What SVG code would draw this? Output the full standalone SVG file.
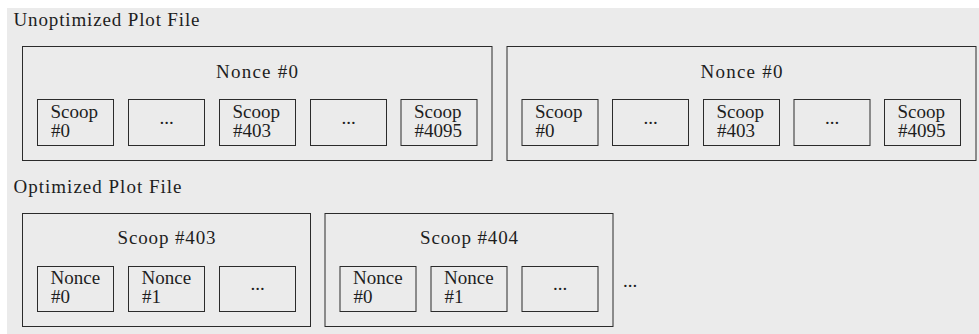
<svg xmlns="http://www.w3.org/2000/svg" width="979" height="334" viewBox="0 0 979 334" font-family="'Liberation Serif', 'Times New Roman', serif">
<style>
  text { font-family: "Liberation Serif", "Times New Roman", serif; font-size: 19px; fill: #1e1e1e; }
  .c { text-anchor: middle; }
  .box { fill: none; stroke: #2b2b2b; stroke-width: 1; }
</style>
<rect x="7" y="8" width="972" height="326" fill="#ebebeb"/>

<g id="unoptimized">
  <text x="13.5" y="26" textLength="186" lengthAdjust="spacing">Unoptimized Plot File</text>

  <g id="nonce0-a">
    <rect class="box" x="22.5" y="46.5" width="469.5" height="114"/>
    <text class="c" x="257" y="77.7" textLength="82" lengthAdjust="spacing">Nonce #0</text>
    <g id="a-scoop0">
      <rect class="box" x="37.5" y="99.5" width="76" height="46"/>
      <text x="50.5" y="117.5">Scoop</text>
      <text x="51" y="136.5">#0</text>
    </g>
    <g id="a-dots1">
      <rect class="box" x="128.5" y="99.5" width="76" height="46"/>
      <text class="c" x="166.5" y="123.5">...</text>
    </g>
    <g id="a-scoop403">
      <rect class="box" x="219.5" y="99.5" width="76" height="46"/>
      <text x="232.5" y="117.5">Scoop</text>
      <text x="233" y="136.5">#403</text>
    </g>
    <g id="a-dots2">
      <rect class="box" x="310.5" y="99.5" width="76" height="46"/>
      <text class="c" x="348.5" y="123.5">...</text>
    </g>
    <g id="a-scoop4095">
      <rect class="box" x="401" y="99.5" width="76" height="46"/>
      <text x="414" y="117.5">Scoop</text>
      <text x="414.5" y="136.5">#4095</text>
    </g>
  </g>

  <g id="nonce0-b">
    <rect class="box" x="507" y="46.5" width="469" height="114"/>
    <text class="c" x="741.5" y="77.7" textLength="82" lengthAdjust="spacing">Nonce #0</text>
    <g id="b-scoop0">
      <rect class="box" x="522" y="99.5" width="76" height="46"/>
      <text x="535" y="117.5">Scoop</text>
      <text x="535.5" y="136.5">#0</text>
    </g>
    <g id="b-dots1">
      <rect class="box" x="612.5" y="99.5" width="76" height="46"/>
      <text class="c" x="650.5" y="123.5">...</text>
    </g>
    <g id="b-scoop403">
      <rect class="box" x="703.5" y="99.5" width="76" height="46"/>
      <text x="716.5" y="117.5">Scoop</text>
      <text x="717" y="136.5">#403</text>
    </g>
    <g id="b-dots2">
      <rect class="box" x="794" y="99.5" width="76" height="46"/>
      <text class="c" x="832" y="123.5">...</text>
    </g>
    <g id="b-scoop4095">
      <rect class="box" x="884.5" y="99.5" width="76" height="46"/>
      <text x="897.5" y="117.5">Scoop</text>
      <text x="898" y="136.5">#4095</text>
    </g>
  </g>
</g>

<g id="optimized">
  <text x="13.5" y="192.5" textLength="168" lengthAdjust="spacing">Optimized Plot File</text>

  <g id="scoop403">
    <rect class="box" x="22.5" y="213.5" width="288" height="113"/>
    <text class="c" x="166.5" y="244.2" textLength="98" lengthAdjust="spacing">Scoop #403</text>
    <g id="c-nonce0">
      <rect class="box" x="37.5" y="266.5" width="76" height="45"/>
      <text x="50.5" y="284">Nonce</text>
      <text x="51" y="303">#0</text>
    </g>
    <g id="c-nonce1">
      <rect class="box" x="128.5" y="266.5" width="76" height="45"/>
      <text x="141.5" y="284">Nonce</text>
      <text x="142" y="303">#1</text>
    </g>
    <g id="c-dots">
      <rect class="box" x="219.5" y="266.5" width="76" height="45"/>
      <text class="c" x="257.5" y="290">...</text>
    </g>
  </g>

  <g id="scoop404">
    <rect class="box" x="325" y="213.5" width="288" height="113"/>
    <text class="c" x="469" y="244.2" textLength="98" lengthAdjust="spacing">Scoop #404</text>
    <g id="d-nonce0">
      <rect class="box" x="340" y="266.5" width="76" height="45"/>
      <text x="353" y="284">Nonce</text>
      <text x="353.5" y="303">#0</text>
    </g>
    <g id="d-nonce1">
      <rect class="box" x="431" y="266.5" width="76" height="45"/>
      <text x="444" y="284">Nonce</text>
      <text x="444.5" y="303">#1</text>
    </g>
    <g id="d-dots">
      <rect class="box" x="522" y="266.5" width="76" height="45"/>
      <text class="c" x="560" y="290">...</text>
    </g>
  </g>

  <text id="more" x="623" y="286.5">...</text>
</g>
</svg>
